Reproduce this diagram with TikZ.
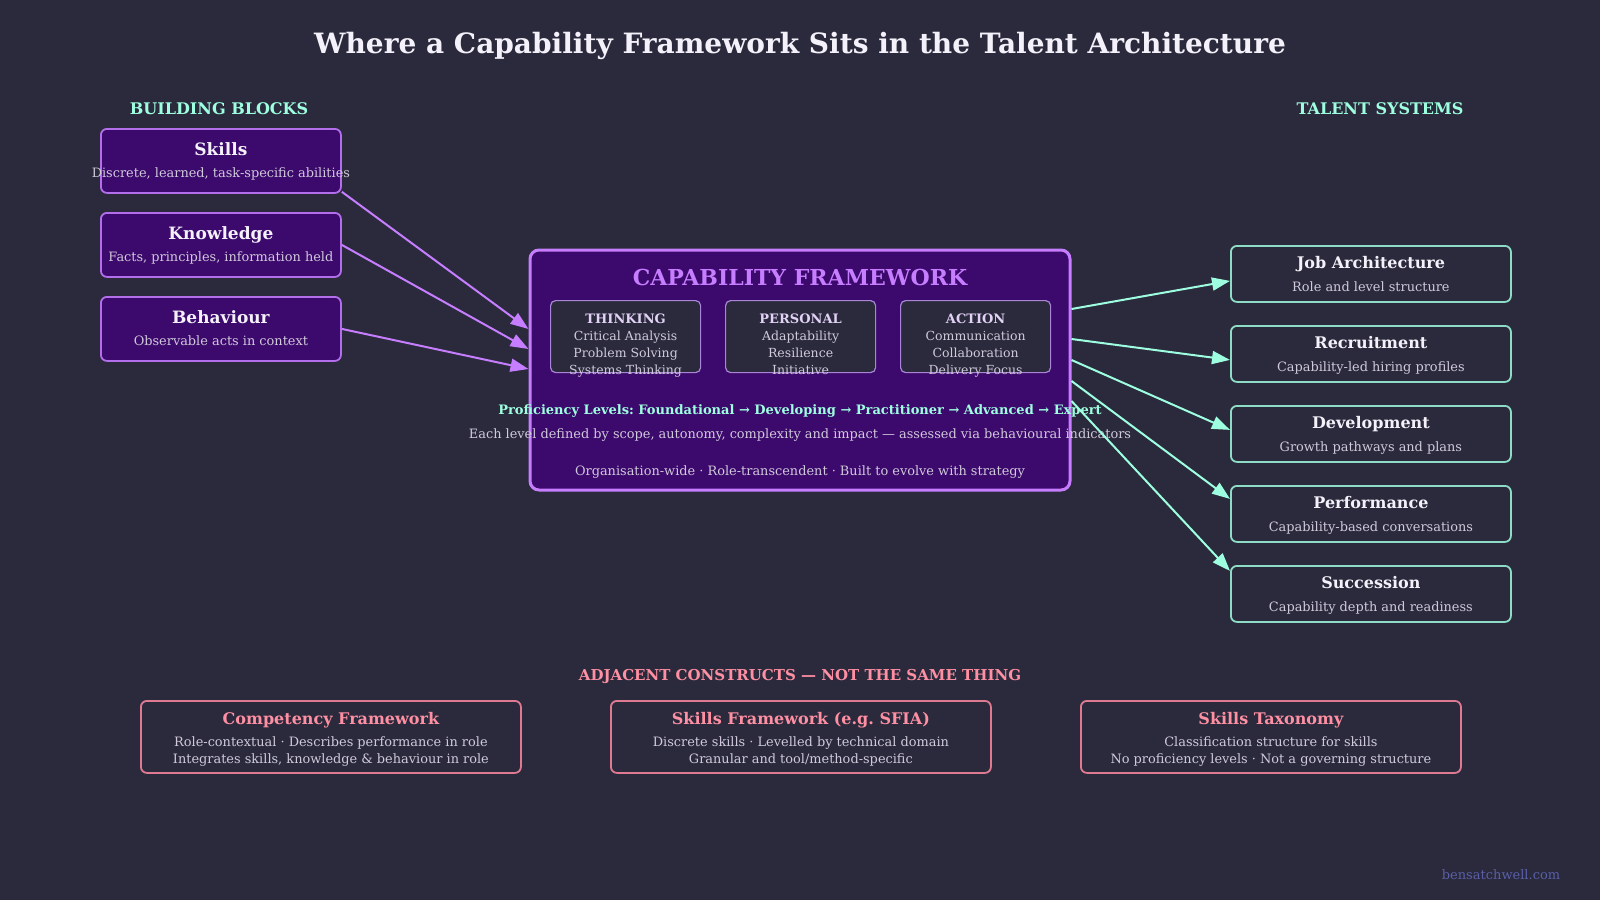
\documentclass[tikz,border=0pt]{standalone}
\usepackage{fontspec}
\setmainfont{DejaVu Serif}
\usetikzlibrary{calc, arrows.meta, positioning}

\definecolor{bgdark}{HTML}{2A2A3C}
\definecolor{cfpurple}{HTML}{3C096C}
\definecolor{cfedge}{HTML}{C77DFF}
\definecolor{blockedge}{HTML}{B36EEC}
\definecolor{laneedge}{HTML}{A985D8}
\definecolor{lanehead}{HTML}{E2D2F6}
\definecolor{mint}{HTML}{9EFFE0}
\definecolor{mintedge}{HTML}{8EDCC6}
\definecolor{pinktext}{HTML}{FF8FA3}
\definecolor{pinkedge}{HTML}{E07A93}
\definecolor{softtext}{HTML}{D0CADB}
\definecolor{whitetext}{HTML}{F4F1FA}
\definecolor{footblue}{HTML}{5A5FA8}

\begin{document}
\frenchspacing
\begin{tikzpicture}[x=1pt, y=-1pt,
    % --- BOXES ---
    blockbox/.style={draw=blockedge, fill=cfpurple, line width=1.8pt, rounded corners=6pt,
        minimum width=240pt, minimum height=64pt, anchor=north west, inner sep=0pt},
    cfbox/.style={draw=cfedge, fill=cfpurple, line width=3pt, rounded corners=9pt, inner sep=0pt},
    lanebox/.style={draw=laneedge, fill=bgdark, line width=1.2pt, rounded corners=5pt,
        minimum width=150pt, minimum height=72pt, anchor=north west, inner sep=0pt},
    sysbox/.style={draw=mintedge, fill=bgdark, line width=1.8pt, rounded corners=6pt,
        minimum width=280pt, minimum height=56pt, anchor=north west, inner sep=0pt},
    adjbox/.style={draw=pinkedge, fill=bgdark, line width=1.8pt, rounded corners=6pt,
        minimum width=380pt, minimum height=72pt, anchor=north west, inner sep=0pt},
    % --- TEXT ---
    txt/.style={anchor=base, inner sep=0pt},
    colhead/.style={txt, text=mint, font=\bfseries\fontsize{16}{19}\selectfont},
    boxtitle/.style={txt, text=whitetext, font=\bfseries\fontsize{17}{20}\selectfont},
    boxsub/.style={txt, text=softtext, font=\fontsize{12.9}{15}\selectfont},
    lanetitle/.style={txt, text=lanehead, font=\bfseries\fontsize{13}{15}\selectfont},
    laneitem/.style={txt, text=softtext, font=\fontsize{12.5}{15}\selectfont},
    adjtitle/.style={txt, text=pinktext, font=\bfseries\fontsize{16}{19}\selectfont},
    adjline/.style={txt, text=softtext, font=\fontsize{12.9}{15}\selectfont},
    % --- CONNECTORS ---
    feedarrow/.style={draw=cfedge, line width=2pt, -{Triangle[length=18pt, width=13pt]}},
    outarrow/.style={draw=mint, line width=2pt, -{Triangle[length=18pt, width=13pt]}}
  ]

  \fill[bgdark] (0,0) rectangle (1600,900);

  % --- TITLE ---
  \node[txt, text=whitetext, font=\bfseries\fontsize{28}{32}\selectfont] (title) at (800,53)
    {Where a Capability Framework Sits in the Talent Architecture};
  \node[colhead] (blockshead) at (219,114) {BUILDING BLOCKS};
  \node[colhead] (syshead) at (1380,114) {TALENT SYSTEMS};

  % --- BUILDING BLOCKS (LEFT) ---
  \node[blockbox] (skills) at (100,128) {};
  \node[boxtitle] (skills-t) at ($(skills.north)+(0,27)$) {Skills};
  \node[boxsub] (skills-s) at ($(skills.north)+(0,49)$) {Discrete, learned, task-specific abilities};

  \node[blockbox] (knowledge) at (100,212) {};
  \node[boxtitle] (knowledge-t) at ($(knowledge.north)+(0,27)$) {Knowledge};
  \node[boxsub] (knowledge-s) at ($(knowledge.north)+(0,49)$) {Facts, principles, information held};

  \node[blockbox] (behaviour) at (100,296) {};
  \node[boxtitle] (behaviour-t) at ($(behaviour.north)+(0,27)$) {Behaviour};
  \node[boxsub] (behaviour-s) at ($(behaviour.north)+(0,49)$) {Observable acts in context};

  % --- CAPABILITY FRAMEWORK (CENTRE) ---
  \node[cfbox, minimum width=540pt, minimum height=240pt] (cf) at (800,370) {};
  \node[txt, text=cfedge, font=\bfseries\fontsize{22}{26}\selectfont] (cf-t) at (800,285) {CAPABILITY FRAMEWORK};

  \foreach \nm/\hd/\ia/\ib/\ic [count=\k from 0] in
      {thinking/THINKING/Critical Analysis/Problem Solving/Systems Thinking,
       personal/PERSONAL/Adaptability/Resilience/Initiative,
       action/ACTION/Communication/Collaboration/Delivery Focus} {
    \node[lanebox] (\nm) at (550+175*\k,300) {};
    \node[lanetitle] (\nm-h) at ($(\nm.north)+(0,23)$) {\hd};
    \node[laneitem] (\nm-a) at ($(\nm.north)+(0,40)$) {\ia};
    \node[laneitem] (\nm-b) at ($(\nm.north)+(0,57)$) {\ib};
    \node[laneitem] (\nm-c) at ($(\nm.north)+(0,74)$) {\ic};
  }

  \node[txt, text=mint, font=\bfseries\fontsize{13}{15}\selectfont] (levels) at (800,414.5)
    {Proficiency Levels: Foundational → Developing → Practitioner → Advanced → Expert};
  \node[txt, text=softtext, font=\fontsize{12.9}{15}\selectfont] (levels-s) at (800,438)
    {Each level defined by scope, autonomy, complexity and impact — assessed via behavioural indicators};
  \node[txt, text=softtext, font=\fontsize{12.9}{15}\selectfont] (scope) at (800,475.5)
    {Organisation-wide · Role-transcendent · Built to evolve with strategy};

  % --- TALENT SYSTEMS (RIGHT) ---
  \foreach \nm/\ttl/\sub [count=\k from 0] in
      {job/Job Architecture/Role and level structure,
       recruit/Recruitment/Capability-led hiring profiles,
       develop/Development/Growth pathways and plans,
       perform/Performance/Capability-based conversations,
       succeed/Succession/Capability depth and readiness} {
    \node[sysbox] (\nm) at (1230,245+80*\k) {};
    \node[boxtitle, font=\bfseries\fontsize{16}{19}\selectfont] (\nm-t) at ($(\nm.north)+(0,23)$) {\ttl};
    \node[boxsub] (\nm-s) at ($(\nm.north)+(0,46)$) {\sub};
  }

  % --- CONNECTORS ---
  \draw[feedarrow] ([yshift=2pt]skills.south east) -- ([yshift=41pt]cf.west);
  \draw[feedarrow] (knowledge.east) -- ([yshift=21pt]cf.west);
  \draw[feedarrow] (behaviour.east) -- ([yshift=1pt]cf.west);

  \foreach \nm/\dy/\ty in {job/61/-7, recruit/31/-6, develop/10/4, perform/-11/15, succeed/-31/23}
    \draw[outarrow] ([yshift=\dy pt]cf.east) -- ([yshift=\ty pt]\nm.west);

  % --- ADJACENT CONSTRUCTS (BOTTOM) ---
  \node[txt, text=pinktext, font=\bfseries\fontsize{15}{18}\selectfont] (adjhead) at (800,680)
    {ADJACENT CONSTRUCTS — NOT THE SAME THING};

  \foreach \nm/\ttl/\la/\lb [count=\k from 0] in
      {competency/Competency Framework/Role-contextual · Describes performance in role/{Integrates skills, knowledge \& behaviour in role},
       sfia/Skills Framework (e.g. SFIA)/Discrete skills · Levelled by technical domain/Granular and tool\slash method-specific,
       taxonomy/Skills Taxonomy/Classification structure for skills/No proficiency levels · Not a governing structure} {
    \node[adjbox] (\nm) at (140+470*\k,700) {};
    \node[adjtitle] (\nm-t) at ($(\nm.north)+(0,24)$) {\ttl};
    \node[adjline] (\nm-a) at ($(\nm.north)+(0,46)$) {\la};
    \node[adjline] (\nm-b) at ($(\nm.north)+(0,63)$) {\lb};
  }

  \node[txt, text=footblue, font=\fontsize{13}{15}\selectfont] (footer) at (1501,879) {bensatchwell.com};
\end{tikzpicture}
\end{document}
